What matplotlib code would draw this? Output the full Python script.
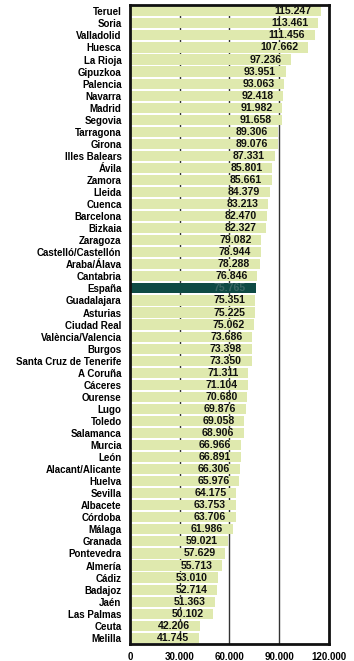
import matplotlib
matplotlib.use("Agg")
import matplotlib.pyplot as plt
from matplotlib.ticker import FuncFormatter

plt.rcParams["font.family"] = ["Liberation Sans Narrow", "Liberation Sans", "DejaVu Sans"]

provincias = [
    "Teruel", "Soria", "Valladolid", "Huesca", "La Rioja", "Gipuzkoa", "Palencia",
    "Navarra", "Madrid", "Segovia", "Tarragona", "Girona", "Illes Balears", "Ávila",
    "Zamora", "Lleida", "Cuenca", "Barcelona", "Bizkaia", "Zaragoza",
    "Castelló/Castellón", "Araba/Álava", "Cantabria", "España", "Guadalajara",
    "Asturias", "Ciudad Real", "València/Valencia", "Burgos", "Santa Cruz de Tenerife",
    "A Coruña", "Cáceres", "Ourense", "Lugo", "Toledo", "Salamanca", "Murcia", "León",
    "Alacant/Alicante", "Huelva", "Sevilla", "Albacete", "Córdoba", "Málaga",
    "Granada", "Pontevedra", "Almería", "Cádiz", "Badajoz", "Jaén", "Las Palmas",
    "Ceuta", "Melilla",
]
valores = [
    115247, 113461, 111456, 107662, 97236, 93951, 93063, 92418, 91982, 91658,
    89306, 89076, 87331, 85801, 85661, 84379, 83213, 82470, 82327, 79082,
    78944, 78288, 76846, 75765, 75351, 75225, 75062, 73686, 73398, 73350,
    71311, 71104, 70680, 69876, 69058, 68906, 66966, 66891, 66306, 65976,
    64175, 63753, 63706, 61986, 59021, 57629, 55713, 53010, 52714, 51363,
    50102, 42206, 41745,
]
marcas_x = [0, 30000, 60000, 90000, 120000]
destacado = "España"


def miles(v, pos=None):
    return f"{int(v):,}".replace(",", ".")


fig = plt.figure(figsize=(3.54, 6.61), dpi=100)
ax = fig.add_axes([0.367, 0.026, 0.562, 0.966])

y = list(range(len(provincias)))
colores = ["#0e4a44" if p == destacado else "#dfe9ae" for p in provincias]
ax.barh(y, valores, height=0.84, color=colores, zorder=2)

for yi, (p, v) in enumerate(zip(provincias, valores)):
    ax.annotate(miles(v), (v, yi), xytext=(-7, 0), textcoords="offset points",
                ha="right", va="center", fontsize=7.6, fontweight="bold",
                color="#3b6664" if p == destacado else "#111111", zorder=3)

ax.set_xlim(0, 120000)
ax.set_ylim(len(provincias) - 0.5, -0.5)
ax.set_xticks(marcas_x)
ax.xaxis.set_major_formatter(FuncFormatter(miles))
ax.set_yticks(y)
ax.set_yticklabels(provincias)
ax.tick_params(axis="y", length=2, direction="in", pad=6, labelsize=7)
ax.tick_params(axis="x", length=0, pad=6, labelsize=7)
for lbl in ax.get_yticklabels() + ax.get_xticklabels():
    lbl.set_fontweight("bold")

for gx in marcas_x[1:-1]:
    ax.axvline(gx, color="#333333", lw=1.0, zorder=1)

for s in ax.spines.values():
    s.set_linewidth(2)
    s.set_color("#111111")

fig.savefig("out.png", dpi=100)
